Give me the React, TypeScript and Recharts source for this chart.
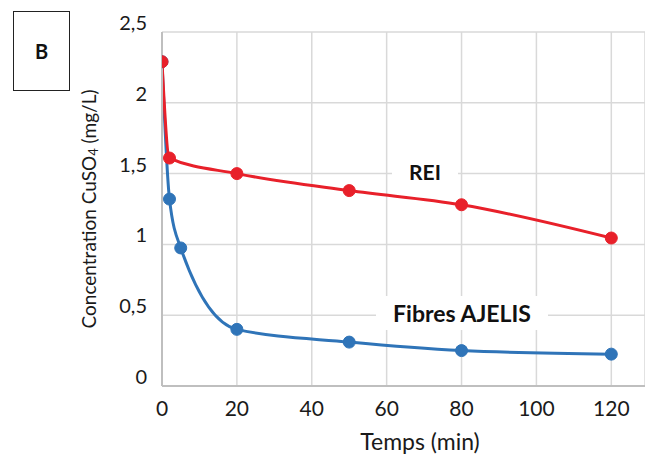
import { CartesianGrid, Label, Line, LineChart, XAxis, YAxis } from "recharts";

const xTicks = [0, 20, 40, 60, 80, 100, 120];
const yTicks = [0, 0.5, 1, 1.5, 2, 2.5];

const reiTimes = [0, 2, 20, 50, 80, 120];
const reiConc = [2.29, 1.61, 1.5, 1.38, 1.28, 1.045];

const ajelisTimes = [0, 2, 5, 20, 50, 80, 120];
const ajelisConc = [2.29, 1.32, 0.975, 0.4, 0.31, 0.25, 0.225];

const reiData = reiTimes.map((t, i) => ({ t, c: reiConc[i] }));
const ajelisData = ajelisTimes.map((t, i) => ({ t, c: ajelisConc[i] }));

const FONT = "Lato, 'Open Sans', sans-serif";
const RED = "#e8202a";
const BLUE = "#2f74b8";

const fmt = (v: number) => String(v).replace(".", ",");

const YTick = ({ x, y, payload }: any) => (
  <text x={x} y={y - 7} textAnchor="end" dominantBaseline="middle" fontSize={20} fill="#1a1a1a" fontFamily={FONT}>
    {fmt(payload.value)}
  </text>
);

const XTick = ({ x, y, payload }: any) => (
  <text x={x} y={y + 11} textAnchor="middle" dominantBaseline="middle" fontSize={21} fill="#1a1a1a" fontFamily={FONT}>
    {payload.value}
  </text>
);

const YTitle = () => (
  <text
    x={91}
    y={209}
    transform="rotate(-90, 91, 209)"
    textAnchor="middle"
    dominantBaseline="middle"
    fontSize={19}
    fill="#1a1a1a"
    fontFamily={FONT}
  >
    Concentration CuSO<tspan dy={4} fontSize={13}>4</tspan>
    <tspan dy={-4}> (mg/L)</tspan>
  </text>
);

const XTitle = () => (
  <text x={420} y={444} textAnchor="middle" dominantBaseline="middle" fontSize={23} fill="#1a1a1a" fontFamily={FONT}>
    Temps (min)
  </text>
);

const boxLabel = (left: number, top: number, width: number, height: number, text: string, size: number) => (
  <div
    style={{
      position: "absolute",
      left,
      top,
      width,
      height,
      background: "#fff",
      display: "flex",
      alignItems: "center",
      justifyContent: "center",
      fontFamily: FONT,
      fontWeight: 700,
      fontSize: size,
      color: "#111",
    }}
  >
    {text}
  </div>
);

export default function App() {
  return (
    <div style={{ position: "absolute", left: 0, top: 0, width: 645, height: 457, background: "#fff" }}>
      <LineChart width={645} height={457} margin={{ top: 32, right: 0, bottom: 0, left: 0 }}>
        <CartesianGrid stroke="#d9d9d9" strokeWidth={1.5} />
        <XAxis
          type="number"
          dataKey="t"
          domain={[0, 129]}
          ticks={xTicks}
          allowDataOverflow
          height={71}
          tickLine={false}
          tickSize={6}
          tickMargin={8}
          axisLine={{ stroke: "#bfbfbf", strokeWidth: 2 }}
          tick={<XTick />}
        >
          <Label content={<XTitle />} />
        </XAxis>
        <YAxis
          type="number"
          domain={[0, 2.5]}
          ticks={yTicks}
          width={162}
          tickLine={false}
          tickSize={6}
          tickMargin={9}
          axisLine={{ stroke: "#bfbfbf", strokeWidth: 2 }}
          tick={<YTick />}
        >
          <Label content={<YTitle />} />
        </YAxis>
        <Line
          data={ajelisData}
          dataKey="c"
          type="monotone"
          stroke={BLUE}
          strokeWidth={3}
          dot={{ r: 6, fill: BLUE, stroke: BLUE, strokeWidth: 1 }}
          isAnimationActive={false}
        />
        <Line
          data={reiData}
          dataKey="c"
          type="monotone"
          stroke={RED}
          strokeWidth={3}
          dot={{ r: 6, fill: RED, stroke: RED, strokeWidth: 1 }}
          isAnimationActive={false}
        />
      </LineChart>
      <div
        style={{
          position: "absolute",
          left: 13,
          top: 11,
          width: 57,
          height: 80,
          border: "1.5px solid #222",
          boxSizing: "border-box",
          display: "flex",
          alignItems: "center",
          justifyContent: "center",
          fontFamily: FONT,
          fontWeight: 700,
          fontSize: 20,
          color: "#111",
          background: "#fff",
        }}
      >
        B
      </div>
      {boxLabel(392, 154, 66, 34, "REI", 21)}
      {boxLabel(376, 296, 172, 34, "Fibres AJELIS", 23)}
    </div>
  );
}
